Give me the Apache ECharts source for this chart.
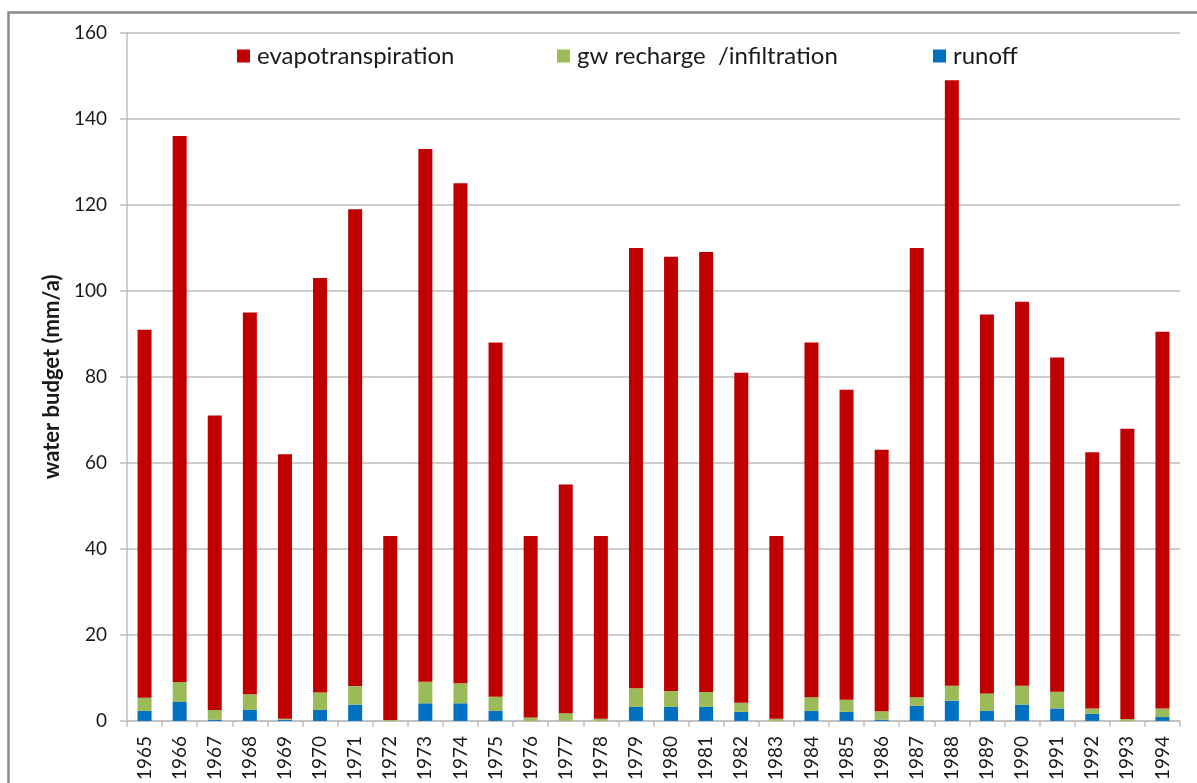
<!DOCTYPE html>
<html>
<head>
<meta charset="utf-8">
<title>Water budget 1965–1994</title>
<script src="https://cdn.jsdelivr.net/npm/echarts@6/dist/echarts.min.js"></script>
<style>
  html, body { margin: 0; padding: 0; background: #ffffff; }
  #chart { width: 1197px; height: 783px; }
</style>
</head>
<body>
<div id="chart"></div>
<script>
// Years on the category axis
const years = ['1965','1966','1967','1968','1969','1970','1971','1972','1973','1974',
               '1975','1976','1977','1978','1979','1980','1981','1982','1983','1984',
               '1985','1986','1987','1988','1989','1990','1991','1992','1993','1994'];

// Annual water budget components (mm/a), stacked bottom to top: runoff, recharge, evapotranspiration
const runoff = [2.3, 4.4, 0.3, 2.55, 0.3, 2.55, 3.8, 0.0, 4.1, 4.1,
                2.3, 0.0, 0.0, 0.0, 3.25, 3.25, 3.25, 2.1, 0.0, 2.3,
                2.1, 0.3, 3.5, 4.7, 2.3, 3.8, 2.9, 1.7, 0.0, 0.9];

const recharge = [3.1, 4.65, 2.25, 3.65, 0.2, 4.05, 4.3, 0.2, 5.0, 4.65,
                  3.3, 0.8, 1.8, 0.5, 4.35, 3.7, 3.5, 2.1, 0.5, 3.2,
                  2.8, 1.95, 2.0, 3.5, 4.1, 4.4, 3.9, 1.2, 0.45, 2.0];

const evapotranspiration = [85.6, 127.0, 68.5, 88.8, 61.5, 96.4, 110.9, 42.8, 123.9, 116.3,
                            82.4, 42.2, 53.2, 42.5, 102.4, 101.0, 102.3, 76.8, 42.5, 82.5,
                            72.1, 60.8, 104.5, 140.8, 88.1, 89.3, 77.7, 59.6, 67.5, 87.6];

// Value axis ticks
const yMin = 0, yMax = 160, yStep = 20;

const seriesNames = ['evapotranspiration', 'gw recharge  /infiltration', 'runoff'];
const colors = { evap: '#C00000', recharge: '#9BBB59', runoff: '#0070C0' };

const font = 'Lato, "Open Sans", "Liberation Sans", sans-serif';

const chart = echarts.init(document.getElementById('chart'), null, { renderer: 'canvas' });

function legendAt(name, left) {
  return {
    data: [name],
    left: left,
    top: 44,
    padding: 0,
    itemWidth: 13,
    itemHeight: 13,
    itemGap: 0,
    icon: 'rect',
    selectedMode: false,
    textStyle: { fontFamily: font, fontSize: 24, color: '#1a1a1a', padding: [0, 0, 0, 2] }
  };
}

chart.setOption({
  animation: false,
  color: [colors.evap, colors.recharge, colors.runoff],
  graphic: [{
    type: 'rect',
    left: 6, top: 10,
    shape: { width: 1300, height: 900 },
    style: { fill: 'none', stroke: '#8a8a8a', lineWidth: 2.5 },
    silent: true
  }],
  legend: [
    legendAt(seriesNames[0], 237),
    legendAt(seriesNames[1], 557),
    legendAt(seriesNames[2], 933)
  ],
  grid: { left: 127, right: 17, top: 33, bottom: 61, containLabel: false },
  xAxis: {
    type: 'category',
    data: years,
    axisLine: { show: true, lineStyle: { color: '#BFBFBF', width: 1.5 } },
    axisTick: { show: true, length: 6, lineStyle: { color: '#BFBFBF', width: 1.5 } },
    axisLabel: { rotate: 90, margin: 15, fontFamily: font, fontSize: 19, color: '#1a1a1a' }
  },
  yAxis: {
    type: 'value',
    min: yMin, max: yMax, interval: yStep,
    name: 'water budget (mm/a)',
    nameLocation: 'middle',
    nameGap: 61,
    nameRotate: 90,
    nameTextStyle: { fontFamily: font, fontSize: 22, fontWeight: 'bold', color: '#1a1a1a' },
    axisLine: { show: true, lineStyle: { color: '#BFBFBF', width: 1.5 } },
    axisTick: { show: true, length: 7, lineStyle: { color: '#BFBFBF', width: 1.5 } },
    axisLabel: { margin: 20, fontFamily: font, fontSize: 19, color: '#1a1a1a' },
    splitLine: { show: true, lineStyle: { color: '#BDBDBD', width: 1.5 } }
  },
  series: [
    {
      name: seriesNames[2], type: 'bar', stack: 'budget', data: runoff, barWidth: 14,
      itemStyle: { color: colors.runoff }
    },
    {
      name: seriesNames[1], type: 'bar', stack: 'budget', data: recharge, barWidth: 14,
      itemStyle: { color: colors.recharge }
    },
    {
      name: seriesNames[0], type: 'bar', stack: 'budget', data: evapotranspiration, barWidth: 14,
      itemStyle: { color: colors.evap }
    }
  ]
});
</script>
</body>
</html>
